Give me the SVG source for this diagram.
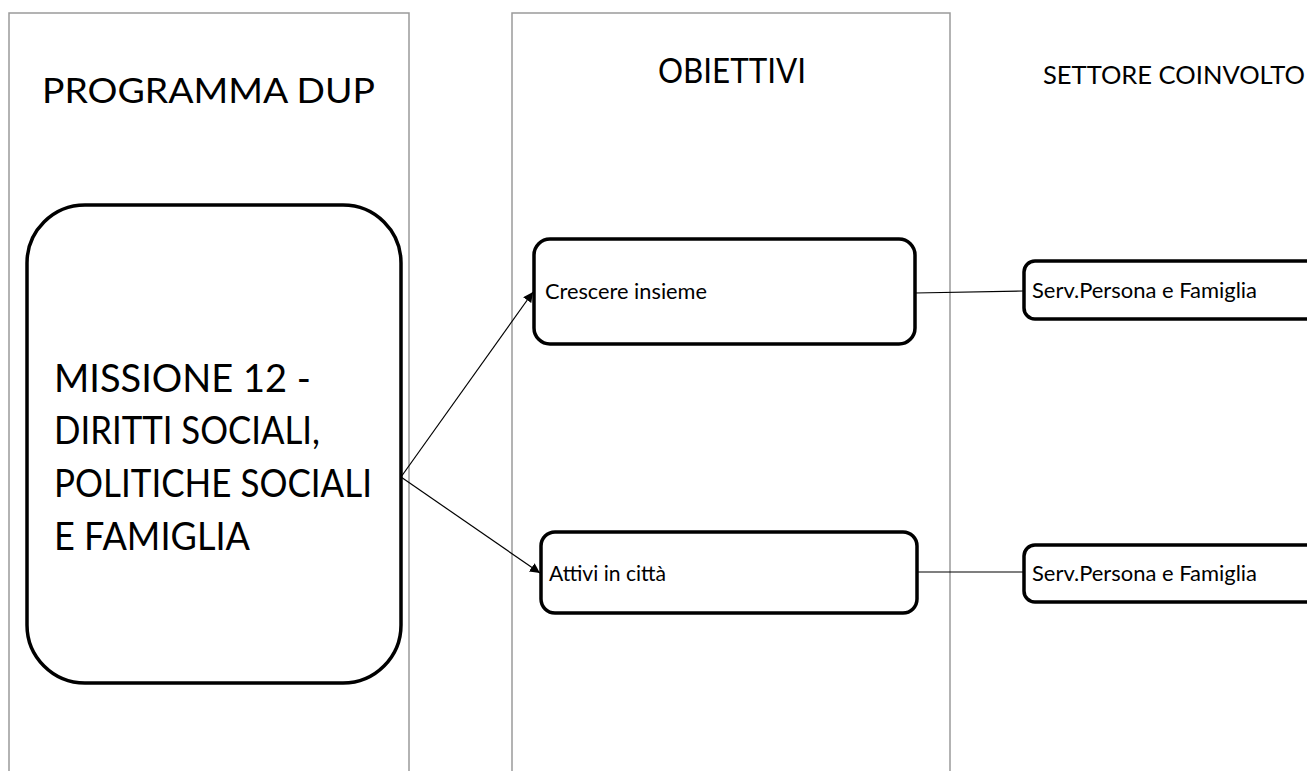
<svg xmlns="http://www.w3.org/2000/svg" width="1307" height="771" viewBox="0 0 1307 771">
  <defs>
    <marker id="arrow" viewBox="0 0 10 10" refX="10" refY="5" markerWidth="10" markerHeight="10" markerUnits="userSpaceOnUse" orient="auto">
      <path d="M0,0 L10,5 L0,10 z" fill="#000"/>
    </marker>
  </defs>
  <style>
    .lane { fill: none; stroke: #9a9a9a; stroke-width: 1.5; }
    .box { fill: #fff; stroke: #000; stroke-width: 3.5; }
    .conn { fill: none; stroke: #000; stroke-width: 1.2; }
    text { font-family: Lato, "Liberation Sans", sans-serif; fill: #000; }
    .head { font-size: 34px; }
    .big { font-size: 39px; }
    .small { font-size: 21px; }
  </style>
  <rect width="1307" height="771" fill="#fff"/>

  <!-- swimlanes -->
  <g id="lane-programma">
    <rect class="lane" x="9" y="13" width="400" height="770"/>
    <text class="head" x="42" y="103" textLength="333" lengthAdjust="spacingAndGlyphs">PROGRAMMA DUP</text>
  </g>
  <g id="lane-obiettivi">
    <rect class="lane" x="512" y="13" width="438" height="770"/>
    <text class="head" x="658" y="83" textLength="148" lengthAdjust="spacingAndGlyphs">OBIETTIVI</text>
  </g>
  <g id="lane-settore">
    <text x="1043" y="84" font-size="25" textLength="262" lengthAdjust="spacingAndGlyphs">SETTORE COINVOLTO</text>
  </g>

  <!-- connectors -->
  <g id="connectors">
    <line class="conn" x1="401" y1="477" x2="533" y2="292" marker-end="url(#arrow)"/>
    <line class="conn" x1="401" y1="477" x2="540" y2="573" marker-end="url(#arrow)"/>
    <line class="conn" x1="915" y1="293" x2="1023" y2="291"/>
    <line class="conn" x1="917" y1="572" x2="1023" y2="572"/>
  </g>

  <!-- nodes -->
  <g id="missione">
    <rect class="box" x="27" y="205" width="374" height="478" rx="58" ry="58"/>
    <text class="big" x="54" y="392" textLength="257" lengthAdjust="spacingAndGlyphs">MISSIONE 12 -</text>
    <text class="big" x="54" y="444" textLength="266" lengthAdjust="spacingAndGlyphs">DIRITTI SOCIALI,</text>
    <text class="big" x="54" y="497" textLength="318" lengthAdjust="spacingAndGlyphs">POLITICHE SOCIALI</text>
    <text class="big" x="54" y="550" textLength="196" lengthAdjust="spacingAndGlyphs">E FAMIGLIA</text>
  </g>
  <g id="crescere">
    <rect class="box" x="534" y="239" width="381" height="105" rx="16" ry="16"/>
    <text class="small" x="545" y="299" textLength="162" lengthAdjust="spacingAndGlyphs">Crescere insieme</text>
  </g>
  <g id="attivi">
    <rect class="box" x="541" y="532" width="376" height="81" rx="14" ry="14"/>
    <text class="small" x="549" y="581" textLength="117" lengthAdjust="spacingAndGlyphs">Attivi in città</text>
  </g>
  <g id="settore-1">
    <rect class="box" x="1024" y="261" width="300" height="58" rx="11" ry="11"/>
    <text class="small" x="1032" y="298" textLength="225" lengthAdjust="spacingAndGlyphs">Serv.Persona e Famiglia</text>
  </g>
  <g id="settore-2">
    <rect class="box" x="1024" y="545" width="300" height="57" rx="11" ry="11"/>
    <text class="small" x="1032" y="581" textLength="225" lengthAdjust="spacingAndGlyphs">Serv.Persona e Famiglia</text>
  </g>
</svg>
